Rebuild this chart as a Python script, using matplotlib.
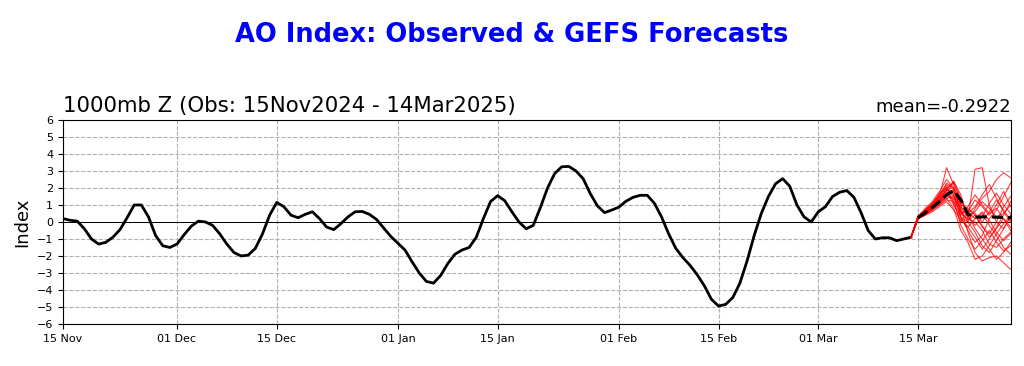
#AO index chart: observed daily values plus GEFS ensemble members
import datetime as dt
import matplotlib
matplotlib.use('Agg')
import matplotlib.pyplot as plt
import matplotlib.dates as mdates

#observed AO index, one value per day from 15 Nov 2024 to 14 Mar 2025
obs_start = dt.date(2024, 11, 15)
obs_values = [0.2, 0.1, 0.05, -0.4, -1.0, -1.3, -1.2, -0.9, -0.45, 0.25,
              1.0, 1.0, 0.3, -0.8, -1.4, -1.5, -1.3, -0.75, -0.25, 0.05,
              0.0, -0.2, -0.7, -1.3, -1.8, -2.0, -1.95, -1.55, -0.7, 0.4,
              1.15, 0.9, 0.4, 0.25, 0.45, 0.6, 0.2, -0.3, -0.45, -0.1,
              0.3, 0.6, 0.62, 0.45, 0.15, -0.35, -0.85, -1.25, -1.65, -2.35,
              -3.0, -3.5, -3.6, -3.15, -2.45, -1.9, -1.65, -1.5, -0.9, 0.2,
              1.2, 1.55, 1.25, 0.6, 0.0, -0.4, -0.2, 0.85, 2.0, 2.85,
              3.25, 3.27, 3.0, 2.55, 1.67, 0.95, 0.55, 0.7, 0.87, 1.22,
              1.45, 1.57, 1.57, 1.1, 0.3, -0.7, -1.55, -2.1, -2.55, -3.1,
              -3.75, -4.55, -4.95, -4.85, -4.45, -3.6, -2.3, -0.8, 0.5, 1.5,
              2.25, 2.55, 2.1, 1.0, 0.3, 0.0, 0.6, 0.9, 1.5, 1.75,
              1.85, 1.45, 0.55, -0.5, -1.0, -0.93, -0.93, -1.1, -1.0, -0.9]

#GEFS members, one value per day from 14 Mar 2025
fc_start = dt.date(2025, 3, 14)
members = [
    [-0.9, 0.3, 0.7, 1.0, 1.5, 3.2, 2.2, 0.9, 0.4, 0.6, 1.2, 0.8, 0.3, 0.5, 1.0, 1.3],
    [-0.9, 0.2, 0.5, 0.8, 1.1, 1.6, 2.4, 1.6, 0.2, 3.1, 3.2, 1.0, 0.0, -0.4, 0.3, 0.8],
    [-0.9, 0.3, 0.6, 0.9, 1.3, 1.9, 1.7, 0.3, -0.5, -1.2, -0.8, 0.2, 0.7, 1.5, 2.3, 3.1],
    [-0.9, 0.2, 0.4, 0.7, 1.0, 1.4, 1.5, 0.8, -0.6, -1.8, -2.3, -2.1, -2.0, -2.4, -2.8, -2.6],
    [-0.9, 0.3, 0.8, 1.2, 1.8, 2.5, 2.0, 0.5, 0.2, 0.0, -0.5, -1.3, -1.5, -1.0, -0.6, -0.3],
    [-0.9, 0.2, 0.5, 0.9, 1.4, 2.1, 1.1, 0.0, 0.6, 1.3, 0.9, 0.4, 1.0, 1.8, 0.9, 0.5],
    [-0.9, 0.4, 0.7, 1.1, 1.6, 2.2, 1.9, 1.0, 0.8, 0.4, -0.2, -0.9, -0.4, 0.2, -0.3, -1.2],
    [-0.9, 0.2, 0.5, 0.8, 1.2, 1.7, 1.3, -0.2, -1.0, -1.6, -1.1, -0.5, -1.2, -1.7, -1.4, -0.8],
    [-0.9, 0.3, 0.6, 1.0, 1.5, 2.3, 2.0, 0.6, 0.5, 0.9, 1.6, 2.2, 1.4, 0.6, 0.0, 0.3],
    [-0.9, 0.2, 0.4, 0.6, 0.9, 1.2, 0.7, 0.1, -0.3, 0.2, 0.5, -0.2, -0.8, -1.5, -1.9, -1.6],
    [-0.9, 0.3, 0.7, 1.0, 1.4, 1.9, 2.4, 1.2, 0.7, 0.5, 0.0, 0.6, 1.3, 0.7, 0.1, -0.5],
    [-0.9, 0.2, 0.6, 0.9, 1.3, 1.8, 1.0, 0.3, 0.0, -0.6, -1.4, -1.8, -1.1, -0.4, 0.4, 1.1],
    [-0.9, 0.3, 0.5, 0.8, 1.1, 1.5, 1.4, 0.9, 0.3, -0.2, 0.3, 1.1, 1.7, 1.0, 0.5, -0.1],
    [-0.9, 0.2, 0.6, 1.0, 1.6, 2.0, 1.6, 0.2, -0.3, -0.9, -1.6, -1.0, -0.3, 0.4, 1.2, 2.0],
    [-0.9, 0.3, 0.6, 0.9, 1.2, 1.6, 1.8, 1.1, 0.6, 0.2, 0.6, 0.1, -0.6, -1.1, -0.7, 0.0],
    [-0.9, 0.2, 0.5, 0.7, 1.0, 1.3, 1.2, 0.6, 0.1, 0.4, -0.3, -0.7, 0.0, 0.9, 1.5, 0.9],
    [-0.9, 0.3, 0.7, 1.1, 1.7, 2.0, 2.3, 1.4, 0.4, -0.4, -1.0, -1.6, -2.2, -1.8, -1.2, -1.4],
    [-0.9, 0.2, 0.5, 0.8, 1.3, 1.9, 1.5, 0.4, 0.9, 1.6, 1.0, 0.5, 0.8, 0.2, -0.5, -0.9],
    [-0.9, 0.3, 0.6, 0.8, 1.2, 1.4, 0.8, -0.5, -1.2, -2.2, -2.0, -1.4, -0.7, -0.1, 0.4, 0.2],
    [-0.9, 0.2, 0.4, 0.8, 1.2, 1.7, 1.9, 0.7, 0.0, 0.8, 1.4, 1.8, 2.5, 2.9, 2.6, 2.2],
]
#ensemble mean as drawn (dashed)
mean_values = [-0.9, 0.25, 0.55, 0.85, 1.2, 1.6, 1.85, 1.3, 0.45, 0.28,
               0.3, 0.3, 0.28, 0.27, 0.25, 0.25]
mean_text = 'mean=-0.2922'

obs_dates = [obs_start + dt.timedelta(days=i) for i in range(len(obs_values))]
fc_dates = [fc_start + dt.timedelta(days=i) for i in range(len(mean_values))]

fig = plt.figure(figsize=(10.24, 3.66), dpi=100)
ax = fig.add_axes([0.0615, 0.115, 0.9255, 0.557])

fig.text(0.5, 0.905, 'AO Index: Observed & GEFS Forecasts', ha='center', va='center',
         color='blue', fontsize=18.5, fontweight='bold')

#grid and zero line
ax.grid(True, linestyle='--', color='#b0b0b0', linewidth=0.8)
ax.axhline(0, color='black', linewidth=0.7)

#observed
ax.plot(obs_dates, obs_values, color='black', linewidth=2, zorder=3)

#members and mean
for m in members:
    ax.plot(fc_dates, m, color='red', linewidth=0.8, alpha=0.75, zorder=4)
ax.plot(fc_dates[1:], mean_values[1:], color='black', linestyle='--', linewidth=2.2, zorder=5)

ax.set_xlim(dt.date(2024, 11, 15), dt.date(2025, 3, 28))
ax.set_ylim(-6, 6)
ax.set_yticks(range(-6, 7))
ax.xaxis.set_major_locator(mdates.DayLocator(bymonthday=[1, 15]))
ax.xaxis.set_major_formatter(mdates.DateFormatter('%d %b'))
ax.tick_params(labelsize=8)
ax.set_ylabel('Index', fontsize=13)

ax.set_title('1000mb Z (Obs: 15Nov2024 - 14Mar2025)', loc='left', fontsize=15.3)
ax.set_title(mean_text, loc='right', fontsize=13)

fig.savefig('out.png', dpi=100)
